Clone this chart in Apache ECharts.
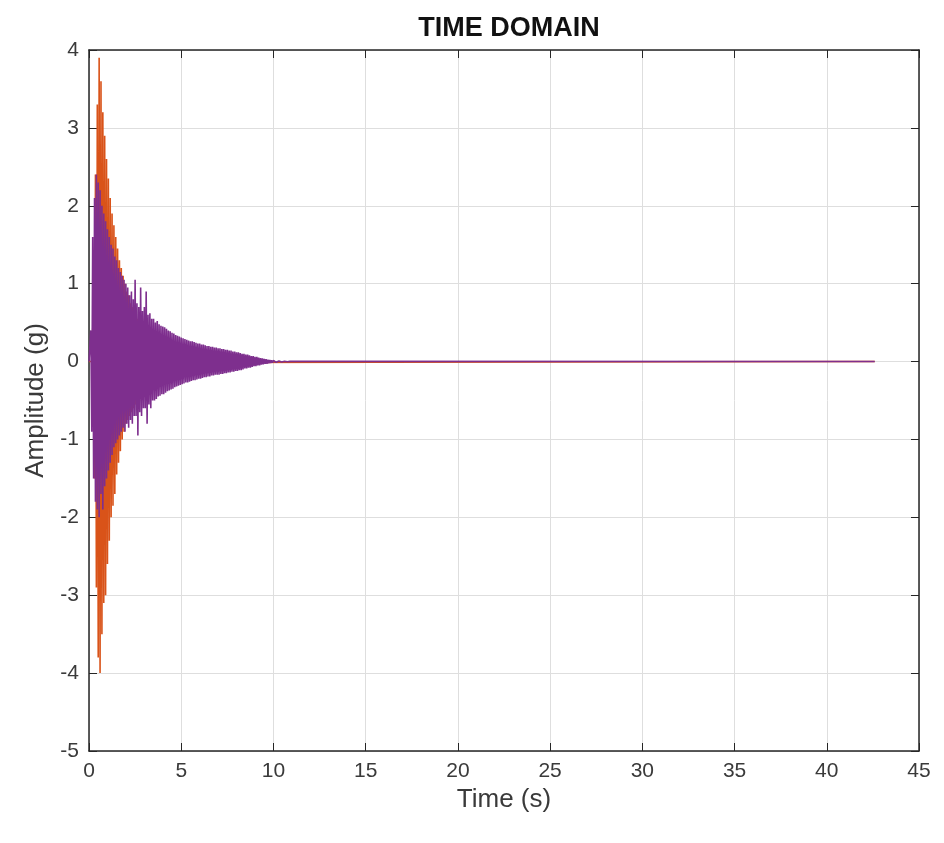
<!DOCTYPE html>
<html>
<head>
<meta charset="utf-8">
<title>TIME DOMAIN</title>
<script src="https://cdn.jsdelivr.net/npm/echarts@6/dist/echarts.min.js"></script>
<style>
  html, body { margin: 0; padding: 0; background: #fff; }
  #chart { width: 944px; height: 843px; }
</style>
</head>
<body>
<div id="chart"></div>
<script>
/* 时域加速度响应图（两个通道），采样间隔 0.05 s */

// 采样间隔与信号结束时间 (s)
const sampleStep = 0.05;
const signalEnd = 42.6;

// x 轴刻度
const xTicks = [0, 5, 10, 15, 20, 25, 30, 35, 40, 45];
// y 轴刻度
const yTicks = [-5, -4, -3, -2, -1, 0, 1, 2, 3, 4];

// 通道 1（橙色）幅值 g，从 t = 0 开始，每 0.05 s 一个
const orangeValues = [
  0, 0, 0, 0, 0, 0.8, -1.5, 2.4, -2.9, 3.3,
  -3.8, 3.9, -4.0, 3.6, -3.5, 3.2, -3.1, 2.9, -3.0, 2.6,
  -2.6, 2.35, -2.3, 2.1, -2.0, 1.9, -1.85, 1.75, -1.7, 1.6,
  -1.45, 1.45, -1.3, 1.3, -1.15, 1.2, -1.0, 1.1, -0.9, 1.0,
  -0.8, 0.9, -0.75, 0.85, -0.7, 0.75, -0.65, 0.7, -0.6, 0.65,
  -0.55, 0.6, -0.5, 0.55, -0.5, 0.5, -0.45, 0.48, -0.42, 0.45,
  -0.4, 0.42, -0.38, 0.4, -0.36, 0.38, -0.34, 0.35, -0.32, 0.33,
  -0.3, 0.3, -0.28, 0.28, -0.26, 0.26, -0.25, 0.25, -0.24, 0.24,
  -0.22, 0.22, -0.21, 0.21, -0.2, 0.2, -0.19, 0.19, -0.18, 0.18,
  -0.17, 0.17, -0.16, 0.16, -0.15, 0.15, -0.14, 0.14, -0.13, 0.13,
  -0.12, 0.12, -0.12, 0.11, -0.11, 0.1, -0.1, 0.1, -0.09, 0.09,
  -0.09, 0.08, -0.08, 0.08, -0.07, 0.07, -0.07, 0.06, -0.06, 0.06,
  -0.05, 0.05, -0.05, 0.04, -0.04, 0.04, -0.03, 0.03, -0.03, 0.03,
  -0.02, 0.02, -0.02, 0.02, -0.02, 0.01, -0.01, 0.01, -0.01, 0.01,
  0
];

// 通道 2（紫色）幅值 g
const purpleValues = [
  0, 0, 0.4, -0.9, 1.6, -1.5, 2.1, -1.8, 2.4, -1.9,
  2.3, -2.0, 2.2, -1.7, 2.0, -1.9, 1.9, -1.6, 1.8, -1.5,
  1.7, -1.4, 1.6, -1.3, 1.5, -1.2, 1.45, -1.1, 1.35, -1.05,
  1.3, -1.0, 1.2, -0.95, 1.15, -0.9, 1.1, -0.85, 1.05, -0.9,
  1.0, -0.8, 0.95, -0.85, 0.85, -0.75, 0.9, -0.8, 0.8, -0.7,
  1.05, -0.7, 0.75, -0.95, 0.7, -0.65, 0.95, -0.7, 0.65, -0.6,
  0.7, -0.6, 0.9, -0.8, 0.6, -0.55, 0.62, -0.6, 0.55, -0.5,
  0.55, -0.5, 0.5, -0.48, 0.52, -0.45, 0.48, -0.44, 0.46, -0.42,
  0.45, -0.42, 0.44, -0.4, 0.42, -0.38, 0.4, -0.37, 0.39, -0.36,
  0.37, -0.35, 0.36, -0.33, 0.34, -0.32, 0.33, -0.31, 0.32, -0.3,
  0.31, -0.29, 0.3, -0.28, 0.29, -0.27, 0.28, -0.27, 0.27, -0.26,
  0.26, -0.25, 0.26, -0.24, 0.25, -0.24, 0.24, -0.23, 0.23, -0.22,
  0.23, -0.22, 0.22, -0.21, 0.22, -0.2, 0.21, -0.2, 0.2, -0.19,
  0.2, -0.19, 0.19, -0.18, 0.19, -0.18, 0.18, -0.17, 0.18, -0.17,
  0.17, -0.17, 0.17, -0.16, 0.16, -0.16, 0.16, -0.15, 0.15, -0.15,
  0.15, -0.14, 0.14, -0.14, 0.14, -0.13, 0.13, -0.13, 0.13, -0.12,
  0.12, -0.12, 0.12, -0.11, 0.11, -0.11, 0.1, -0.1, 0.1, -0.09,
  0.09, -0.09, 0.09, -0.08, 0.08, -0.08, 0.07, -0.07, 0.07, -0.06,
  0.06, -0.06, 0.06, -0.05, 0.05, -0.05, 0.045, -0.04, 0.04, -0.035,
  0.035, -0.03, 0.03, -0.028, 0.025, -0.022, 0.02, -0.018, 0.016, -0.014,
  0.013, -0.012, 0.011, -0.01, 0.009, -0.008, 0.007, -0.007, 0.006, -0.005,
  0.005, -0.004, 0.004, -0.003, 0.003, -0.003, 0.002, -0.002, 0.002, -0.001,
  0
];

const FONT = '"Liberation Sans", Arial, Helvetica, sans-serif';
const AXIS_COLOR = '#262626';
const LABEL_COLOR = '#3a3a3a';
const GRID_COLOR = '#dedede';

// 采样值 -> [t, v]，末尾补零到信号结束
function toPairs(values) {
  const pairs = values.map((v, i) => [+(i * sampleStep).toFixed(2), v]);
  pairs.push([signalEnd, 0]);
  return pairs;
}

const chart = echarts.init(document.getElementById('chart'), null, { renderer: 'canvas' });

const baseAxis = {
  axisLine: { show: true, onZero: false, lineStyle: { color: AXIS_COLOR, width: 1.5 } },
  axisTick: { show: true, inside: true, length: 8, lineStyle: { color: AXIS_COLOR, width: 1 } },
  splitLine: { show: true, lineStyle: { color: GRID_COLOR, width: 1 } }
};

const option = {
  backgroundColor: '#ffffff',
  animation: false,
  title: {
    text: 'TIME DOMAIN',
    left: 504,
    top: 10,
    textAlign: 'center',
    textStyle: { fontFamily: FONT, fontSize: 27, fontWeight: 'bold', color: '#111' }
  },
  grid: { left: 89, right: 25, top: 50, bottom: 92 },
  xAxis: [
    {
      ...baseAxis,
      type: 'value',
      min: xTicks[0],
      max: xTicks[xTicks.length - 1],
      interval: 5,
      position: 'bottom',
      name: 'Time (s)',
      nameLocation: 'middle',
      nameGap: 33,
      nameTextStyle: { fontFamily: FONT, fontSize: 26, color: LABEL_COLOR },
      axisLabel: { fontFamily: FONT, fontSize: 21, color: LABEL_COLOR, margin: 10 }
    },
    {
      ...baseAxis,
      type: 'value',
      min: xTicks[0],
      max: xTicks[xTicks.length - 1],
      interval: 5,
      position: 'top',
      splitLine: { show: false },
      axisLabel: { show: false }
    }
  ],
  yAxis: [
    {
      ...baseAxis,
      type: 'value',
      min: yTicks[0],
      max: yTicks[yTicks.length - 1],
      interval: 1,
      position: 'left',
      name: 'Amplitude (g)',
      nameLocation: 'middle',
      nameGap: 40,
      nameTextStyle: { fontFamily: FONT, fontSize: 26, color: LABEL_COLOR },
      axisLabel: { fontFamily: FONT, fontSize: 21, color: LABEL_COLOR, margin: 10 }
    },
    {
      ...baseAxis,
      type: 'value',
      min: yTicks[0],
      max: yTicks[yTicks.length - 1],
      interval: 1,
      position: 'right',
      splitLine: { show: false },
      axisLabel: { show: false }
    }
  ],
  series: [
    {
      name: 'Channel 1',
      type: 'line',
      xAxisIndex: 0,
      yAxisIndex: 0,
      showSymbol: false,
      symbol: 'none',
      lineStyle: { color: '#D95319', width: 1.6 },
      data: toPairs(orangeValues)
    },
    {
      name: 'Channel 2',
      type: 'line',
      xAxisIndex: 0,
      yAxisIndex: 0,
      showSymbol: false,
      symbol: 'none',
      lineStyle: { color: '#7E2F8E', width: 1.6 },
      data: toPairs(purpleValues)
    }
  ]
};

chart.setOption(option);
window.addEventListener('resize', () => chart.resize());
</script>
</body>
</html>
